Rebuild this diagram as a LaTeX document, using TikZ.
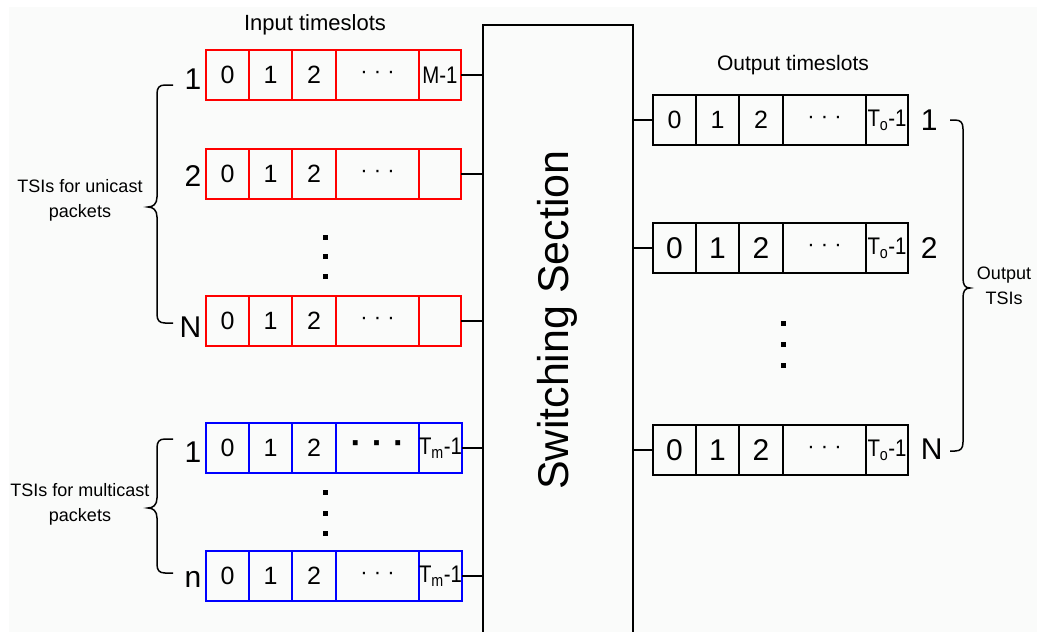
\documentclass[tikz,border=0pt]{standalone}
\usepackage{fontspec}
\usepackage{graphicx}
\setmainfont{Liberation Sans}
\usetikzlibrary{positioning}

\definecolor{paper}{RGB}{250,251,250}

\newcommand{\digitfont}{\fontsize{25}{25}\selectfont}
\newcommand{\bigdigitfont}{\fontsize{30}{30}\selectfont}
\newcommand{\dotfont}{\fontsize{22}{22}\selectfont}
\newcommand{\lastfont}{\fontsize{24}{24}\selectfont}

\tikzset{
  slot/.style={draw, inner sep=0pt, outer sep=0pt, minimum height=50pt, line width=1.8pt},
  rowlabel/.style={font=\fontsize{30}{30}\selectfont, inner sep=0pt},
  heading/.style={inner sep=0pt},
  note/.style={font=\fontsize{18}{25}\selectfont, align=center, inner sep=0pt},
  brace/.style={line width=1.5pt},
}

% one row of timeslots: name, position, colour, digit font, dots, last slot
\newcommand{\slotrow}[6]{%
  \node[slot, draw=#3, font=#4, minimum width=43pt, anchor=west] (#1-0) at #2 {0};
  \node[slot, draw=#3, font=#4, minimum width=43pt, right=0pt of #1-0] (#1-1) {1};
  \node[slot, draw=#3, font=#4, minimum width=44pt, right=0pt of #1-1] (#1-2) {2};
  \node[slot, draw=#3, font=\dotfont, minimum width=83pt, right=0pt of #1-2] (#1-3) {#5};
  \node[slot, draw=#3, font=\lastfont, minimum width=42pt, right=0pt of #1-3] (#1-4) {\scalebox{0.85}[1]{#6}};
}

\begin{document}
\begin{tikzpicture}[x=1pt, y=-1pt, line width=1.6pt]
  \useasboundingbox (0,0) rectangle (1037,632);
  \fill[paper] (9,7) rectangle (1037,632);

  % switch in the middle
  \node[draw, line width=1.8pt, minimum width=150pt, minimum height=630pt,
        anchor=north, inner sep=0pt] (sw) at (558,24) {};
  \node[rotate=90, font=\fontsize{43}{43}\selectfont] (swtext) at (557,320) {Switching Section};

  % input side
  \node[heading, font=\fontsize{22}{22}\selectfont] (intitle) at (315,25) {Input timeslots};
  \slotrow{u1}{(206,75)}{red}{\digitfont}{· · ·}{M-1}
  \slotrow{u2}{(206,174)}{red}{\digitfont}{· · ·}{}
  \slotrow{uN}{(206,321)}{red}{\digitfont}{· · ·}{}
  \slotrow{m1}{(206,448)}{blue}{\digitfont}{{\bfseries\fontsize{34}{34}\selectfont ·\hspace{10pt}·\hspace{10pt}·}}{T\textsubscript{m}-1}
  \slotrow{mn}{(206,576)}{blue}{\digitfont}{· · ·}{T\textsubscript{m}-1}

  \node[rowlabel, left=4pt of u1-0, anchor=base east, yshift=-14pt] (u1-id) {1};
  \node[rowlabel, left=4pt of u2-0, anchor=base east, yshift=-12pt] (u2-id) {2};
  \node[rowlabel, left=4pt of uN-0, anchor=base east, yshift=-16pt] (uN-id) {N};
  \node[rowlabel, left=4pt of m1-0, anchor=base east, yshift=-14pt] (m1-id) {1};
  \node[rowlabel, left=4pt of mn-0, anchor=base east, yshift=-11pt] (mn-id) {n};

  \foreach \y in {237,256,276,492,513,533}
    \fill (322.5,\y-2.5) rectangle ++(5,5);

  % output side
  \node[heading, font=\fontsize{21}{21}\selectfont] (outtitle) at (793,65) {Output timeslots};
  \slotrow{o1}{(653,120)}{black}{\digitfont}{· · ·}{T\textsubscript{o}-1}
  \slotrow{o2}{(653,248)}{black}{\bigdigitfont}{· · ·}{T\textsubscript{o}-1}
  \slotrow{oN}{(653,450)}{black}{\bigdigitfont}{· · ·}{T\textsubscript{o}-1}

  \node[rowlabel, right=12pt of o1-4, anchor=base west, yshift=-10pt] (o1-id) {1};
  \node[rowlabel, right=12pt of o2-4, anchor=base west, yshift=-10pt] (o2-id) {2};
  \node[rowlabel, right=12pt of oN-4, anchor=base west, yshift=-9pt] (oN-id) {N};

  \foreach \y in {323,344,365}
    \fill (780.5,\y-2.5) rectangle ++(5,5);

  % links into and out of the switch
  \foreach \r in {u1,u2,uN,m1,mn}
    \draw (\r-4.east) -- (\r-4.east -| sw.west);
  \foreach \r in {o1,o2,oN}
    \draw (sw.east |- \r-0.west) -- (\r-0.west);

  % braces
  \draw[brace] (173,85) -- (165,85) .. controls (159,85) and (157,88) .. (157,94)
    -- (157,197) .. controls (157,204) and (153,207) .. (148,207)
    .. controls (153,207) and (157,210) .. (157,217)
    -- (157,314) .. controls (157,320) and (159,323) .. (165,323) -- (173,323);
  \draw[brace] (173,439) -- (165,439) .. controls (159,439) and (157,442) .. (157,448)
    -- (157,498) .. controls (157,505) and (153,508) .. (148,508)
    .. controls (153,508) and (157,511) .. (157,518)
    -- (157,564) .. controls (157,570) and (159,573) .. (165,573) -- (173,573);
  \draw[brace] (950,120) -- (955,120) .. controls (961,120) and (963,123) .. (963,129)
    -- (963,278) .. controls (963,285) and (965,288) .. (970,288)
    .. controls (965,288) and (963,291) .. (963,298)
    -- (963,442) .. controls (963,448) and (961,451) .. (955,451) -- (950,451);

  \node[note] (unicast) at (80,200) {TSIs for unicast\\packets};
  \node[note] (multicast) at (80,504) {TSIs for multicast\\packets};
  \node[note] (outtsi) at (1004,286) {Output\\TSIs};
\end{tikzpicture}
\end{document}
